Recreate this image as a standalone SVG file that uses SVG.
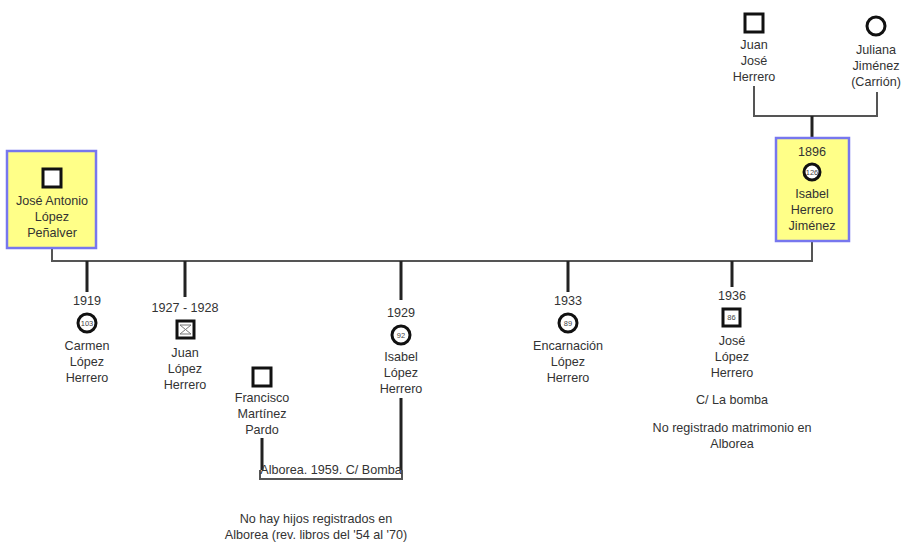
<svg xmlns="http://www.w3.org/2000/svg" width="902" height="542" viewBox="0 0 902 542">
<style>
text{font-family:"Liberation Sans",Arial,sans-serif;font-size:12.6px;fill:#333;text-anchor:middle}
.age{font-size:7.5px;fill:#444}
.box{fill:#ffff88;stroke:#7777ee;stroke-width:2.5}
.m{fill:#fff;stroke:#111;stroke-width:3}
.f{fill:#fff;stroke:#111;stroke-width:3}
.ln{fill:none;stroke:#555;stroke-width:2}
.dl{fill:none;stroke:#222;stroke-width:3}
</style>
<rect width="902" height="542" fill="#fff"/>
<g id="connectors">
<path class="ln" d="M52 249V261H812V241"/>
<path class="dl" d="M87 261V292M185 261V297M401 261V300M568 261V292M732 261V287"/>
<path class="ln" d="M754 86V116H877V92"/>
<path class="dl" d="M812 116V137"/>
<path class="dl" d="M262 438V470M401 398V470"/>
<path class="ln" d="M260 470V479H402V470"/>
</g>
<g id="jose-antonio">
<rect class="box" x="7" y="151" width="89" height="97"/>
<rect class="m" x="43" y="169" width="18" height="18"/>
<text x="52" y="205">José Antonio</text>
<text x="52" y="221">López</text>
<text x="52" y="237">Peñalver</text>
</g>
<g id="juan-jose">
<rect class="m" x="745" y="14" width="18" height="18"/>
<text x="754" y="49">Juan</text>
<text x="754" y="65">José</text>
<text x="754" y="81">Herrero</text>
</g>
<g id="juliana">
<circle class="f" cx="876" cy="26" r="9"/>
<text x="876" y="54">Juliana</text>
<text x="876" y="70">Jiménez</text>
<text x="876" y="86">(Carrión)</text>
</g>
<g id="isabel-herrero">
<rect class="box" x="776" y="138" width="73" height="103"/>
<text x="812" y="156">1896</text>
<circle class="f" cx="812" cy="172" r="8"/>
<text class="age" x="812" y="174.7">126</text>
<text x="812" y="198">Isabel</text>
<text x="812" y="214">Herrero</text>
<text x="812" y="230">Jiménez</text>
</g>
<g id="carmen">
<text x="87" y="305">1919</text>
<circle class="f" cx="87" cy="323" r="9"/>
<text class="age" x="87" y="325.7">103</text>
<text x="87" y="350">Carmen</text>
<text x="87" y="366">López</text>
<text x="87" y="382">Herrero</text>
</g>
<g id="juan">
<text x="185" y="312">1927 - 1928</text>
<rect class="m" x="177" y="321" width="17" height="17"/>
<path d="M180 325H191L180 334H191Z" fill="none" stroke="#777" stroke-width="1"/>
<text x="185" y="357">Juan</text>
<text x="185" y="373">López</text>
<text x="185" y="389">Herrero</text>
</g>
<g id="isabel-lopez">
<text x="401" y="317">1929</text>
<circle class="f" cx="401" cy="335" r="9"/>
<text class="age" x="401" y="337.7">92</text>
<text x="401" y="361">Isabel</text>
<text x="401" y="377">López</text>
<text x="401" y="393">Herrero</text>
</g>
<g id="francisco">
<rect class="m" x="253" y="368" width="18" height="18"/>
<text x="262" y="402">Francisco</text>
<text x="262" y="418">Martínez</text>
<text x="262" y="434">Pardo</text>
</g>
<g id="marriage-label">
<text x="331" y="474">Alborea. 1959. C/ Bomba</text>
<text x="316" y="523">No hay hijos registrados en</text>
<text x="316" y="539">Alborea (rev. libros del '54 al '70)</text>
</g>
<g id="encarnacion">
<text x="568" y="305">1933</text>
<circle class="f" cx="568" cy="323" r="9"/>
<text class="age" x="568" y="325.7">89</text>
<text x="568" y="350">Encarnación</text>
<text x="568" y="366">López</text>
<text x="568" y="382">Herrero</text>
</g>
<g id="jose">
<text x="732" y="300">1936</text>
<rect class="m" x="723" y="309" width="17" height="17"/>
<text class="age" x="731.5" y="320.3">86</text>
<text x="732" y="345">José</text>
<text x="732" y="361">López</text>
<text x="732" y="377">Herrero</text>
<text x="732" y="404">C/ La bomba</text>
<text x="732" y="432">No registrado matrimonio en</text>
<text x="732" y="448">Alborea</text>
</g>
</svg>
